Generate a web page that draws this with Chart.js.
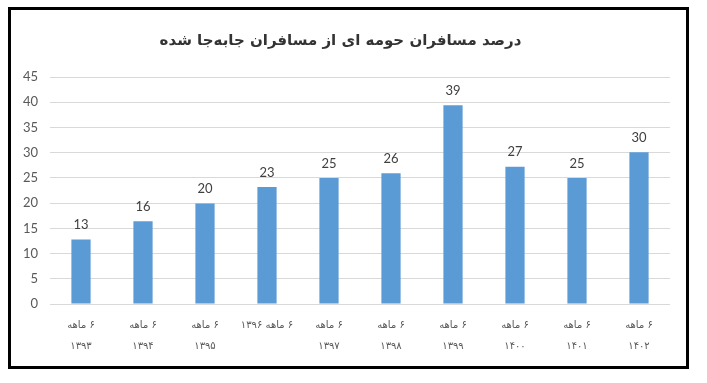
<!DOCTYPE html>
<html>
<head>
<meta charset="utf-8">
<script src="https://cdn.jsdelivr.net/npm/chart.js@4/dist/chart.umd.min.js"></script>
<style>
  body { margin: 0; background: #fff; }
  #box {
    position: absolute; left: 8px; top: 7px;
    width: 675px; height: 356px;
    border: 3px solid #000;
  }
</style>
</head>
<body>
<div id="box"><canvas id="canvas_bar" dir="rtl" width="675" height="356"></canvas></div>
<script>
// data
const chartTitle = 'درصد مسافران حومه ای از مسافران جابه‌جا شده';
const periods = [
  ['۶ ماهه', '۱۳۹۳'],
  ['۶ ماهه', '۱۳۹۴'],
  ['۶ ماهه', '۱۳۹۵'],
  '۶ ماهه ۱۳۹۶',
  ['۶ ماهه', '۱۳۹۷'],
  ['۶ ماهه', '۱۳۹۸'],
  ['۶ ماهه', '۱۳۹۹'],
  ['۶ ماهه', '۱۴۰۰'],
  ['۶ ماهه', '۱۴۰۱'],
  ['۶ ماهه', '۱۴۰۲']
];
const shares = [12.8, 16.4, 19.9, 23.2, 25.0, 25.9, 39.4, 27.2, 25.0, 30.1];
const yMax = 45;
const yStep = 5;

// value labels above bars
const barLabels = {
  id: 'barLabels',
  afterDatasetsDraw(chart) {
    const ctx = chart.ctx;
    const meta = chart.getDatasetMeta(0);
    ctx.save();
    ctx.font = '13px Lato, "DejaVu Sans", sans-serif';
    ctx.fillStyle = '#404040';
    ctx.textAlign = 'center';
    ctx.textBaseline = 'bottom';
    meta.data.forEach((bar, i) => {
      ctx.fillText(Math.round(shares[i]), bar.x, bar.y - 8);
    });
    ctx.restore();
  }
};

const data_bar = {
  labels: periods,
  datasets: [{
    data: shares,
    backgroundColor: '#5b9bd5',
    barPercentage: 0.62,
    categoryPercentage: 0.5
  }]
};

const config_bar = {
  type: 'bar',
  data: data_bar,
  options: {
    responsive: false,
    animation: false,
    layout: { padding: { left: 0, right: 16, bottom: -2 } },
    plugins: {
      legend: { display: false },
      tooltip: { enabled: false },
      title: {
        display: true,
        text: chartTitle,
        color: '#333333',
        font: { family: '"DejaVu Sans", sans-serif', size: 15, weight: 'bold' },
        padding: { top: 22, bottom: 27 }
      }
    },
    scales: {
      x: {
        grid: { display: false, drawTicks: false },
        border: { display: false },
        ticks: {
          color: '#595959',
          font: { family: '"DejaVu Sans", sans-serif', size: 10, lineHeight: 2.1 },
          padding: 11,
          maxRotation: 0,
          autoSkip: false
        }
      },
      y: {
        min: 0,
        max: yMax,
        afterFit: s => { s.width = 39; },
        grid: { color: '#d9d9d9', drawTicks: false },
        border: { display: false },
        ticks: {
          stepSize: yStep,
          color: '#595959',
          font: { family: 'Lato, sans-serif', size: 13 },
          padding: 12
        }
      }
    }
  },
  plugins: [barLabels]
};

const canvas_bar = document.getElementById('canvas_bar');
const chart_bar = new Chart(canvas_bar, config_bar);
</script>
</body>
</html>
